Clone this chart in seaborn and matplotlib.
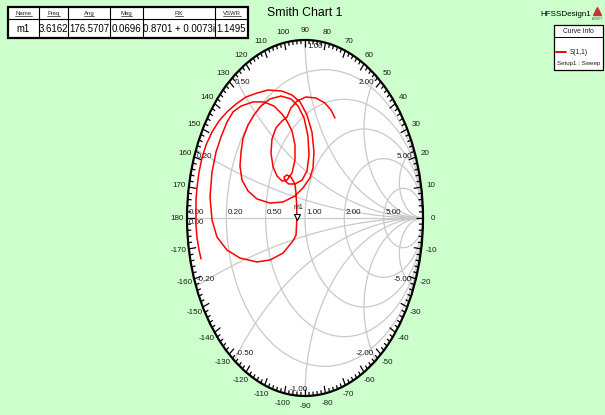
import numpy as np
import matplotlib
matplotlib.use("Agg")
import matplotlib.pyplot as plt
from matplotlib.patches import Circle, Rectangle
from matplotlib.collections import LineCollection
import seaborn as sns

# ---- S(1,1) sweep, reflection coefficient (real / imaginary parts) ----
gamma_re = [-0.881, -0.898, -0.915, -0.924, -0.924, -0.924, -0.915, -0.898, -0.873, -0.839,
            -0.788, -0.729, -0.661, -0.585, -0.500, -0.407, -0.314, -0.195, -0.110, -0.042,
            0.017, 0.059, 0.076, 0.068, 0.042, -0.017, -0.085, -0.186, -0.297, -0.407,
            -0.483, -0.534, -0.551, -0.542, -0.525, -0.483, -0.432, -0.373, -0.297, -0.203,
            -0.119, -0.059, -0.008, 0.025, 0.034, 0.017, -0.025, -0.085, -0.136, -0.169,
            -0.178, -0.153, -0.119, -0.085, -0.075, -0.070, -0.0695, -0.072, -0.076, -0.102,
            -0.186, -0.297, -0.407, -0.551, -0.661, -0.746, -0.788, -0.805, -0.788, -0.754,
            -0.712, -0.661, -0.610, -0.542, -0.441, -0.347, -0.263, -0.195, -0.153, -0.110,
            -0.085, -0.085, -0.110, -0.153, -0.195, -0.237, -0.271, -0.288, -0.280, -0.246,
            -0.195, -0.153, -0.119, -0.068, 0.008, 0.093, 0.169, 0.220, 0.254]
gamma_im = [-0.230, -0.180, -0.112, -0.039, 0.034, 0.101, 0.174, 0.258, 0.337, 0.410,
            0.483, 0.545, 0.596, 0.640, 0.680, 0.702, 0.719, 0.713, 0.691, 0.652,
            0.579, 0.483, 0.371, 0.281, 0.225, 0.169, 0.124, 0.090, 0.084, 0.107,
            0.152, 0.213, 0.292, 0.371, 0.449, 0.522, 0.579, 0.629, 0.669, 0.685,
            0.669, 0.629, 0.562, 0.461, 0.354, 0.264, 0.213, 0.191, 0.191, 0.208,
            0.230, 0.242, 0.230, 0.191, 0.129, 0.062, 0.0042, -0.045, -0.096, -0.129,
            -0.197, -0.236, -0.247, -0.225, -0.180, -0.107, -0.011, 0.118, 0.258, 0.371,
            0.455, 0.539, 0.596, 0.629, 0.652, 0.652, 0.629, 0.584, 0.545, 0.489,
            0.410, 0.326, 0.253, 0.213, 0.208, 0.236, 0.287, 0.365, 0.444, 0.506,
            0.545, 0.567, 0.618, 0.657, 0.680, 0.674, 0.646, 0.607, 0.562]

# marker m1
marker_name = "m1"
marker_re = -0.0695
marker_im = 0.0042

# marker table
table_headers = ["Name", "Freq", "Ang", "Mag", "RX", "VSWR"]
table_values = ["m1", "3.6162", "176.5707", "0.0696", "0.8701 + 0.0073i", "1.1495"]

# Smith grid
resistance_values = [0.2, 0.5, 1.0, 2.0, 5.0]
resistance_labels = ["0.20", "0.50", "1.00", "2.00", "5.00"]
reactance_values = [0.2, 0.5, 1.0, 2.0, 5.0]
reactance_labels = ["0.20", "0.50", "1.00", "2.00", "5.00"]
angle_ticks = list(range(-170, 190, 10))

title_text = "Smith Chart 1"
design_text = "HFSSDesign1"
legend_title = "Curve Info"
legend_trace = "S(1,1)"
legend_setup = "Setup1 : Sweep"

# ---------------------------------------------------------------------
sns.set_theme(style="white")
plt.rcParams["font.family"] = ["Liberation Sans", "DejaVu Sans"]

W, H = 605, 415
BG = "#ccffcc"
GRID = "#c9c9c9"
TXT = "#1a1a1a"
FS = 5.8

fig = plt.figure(figsize=(W / 100, H / 100), dpi=100, facecolor=BG)

# chart axes: unit circle spans 236 px wide and 356 px tall
cx, cy, rx, ry = 305.0, 218.0, 118.0, 178.0
ax = fig.add_axes([0, 0, 1, 1])
ax.set_xlim(-cx / rx, (W - cx) / rx)
ax.set_ylim((cy - H) / ry, cy / ry)
ax.axis("off")

disk = Circle((0, 0), 1.0, facecolor="white", edgecolor="none", zorder=0)
ax.add_patch(disk)

# resistance circles
for r in resistance_values:
    c = Circle((r / (1 + r), 0), 1 / (1 + r), fill=False, ec=GRID, lw=0.9, zorder=1)
    ax.add_patch(c)
# reactance arcs, clipped to the chart
for x in reactance_values:
    for s in (1, -1):
        c = Circle((1, s / x), 1 / x, fill=False, ec=GRID, lw=0.9, zorder=1)
        ax.add_patch(c)
        c.set_clip_path(disk)
ax.plot([-1, 1], [0, 0], color=GRID, lw=0.9, zorder=1)

# outer rim
rim = Circle((0, 0), 1.0, fill=False, ec="black", lw=1.6, zorder=4)
ax.add_patch(rim)

# angle ticks every 2 degrees, longer every 10
segs = []
for deg in range(-180, 180, 2):
    t = np.deg2rad(deg)
    L = 7.5 if deg % 10 == 0 else 4.0
    segs.append([(np.cos(t), np.sin(t)),
                 (np.cos(t) * (1 - L / rx), np.sin(t) * (1 - L / ry))])
ax.add_collection(LineCollection(segs, colors="black", linewidths=0.9, zorder=4))

# angle labels
d = 10.0
for deg in angle_ticks:
    t = np.deg2rad(deg)
    ax.text(np.cos(t) * (1 + d / rx), np.sin(t) * (1 + d / ry), str(deg),
            ha="center", va="center", fontsize=FS, color=TXT, zorder=5)

# resistance labels along the real axis
ax.text(-1 + 2 / rx, 2 / ry, "0.00", ha="left", va="bottom", fontsize=FS, color=TXT, zorder=5)
ax.text(-1 + 2 / rx, -1 / ry, "0.00", ha="left", va="top", fontsize=FS, color=TXT, zorder=5)
for r, lab in zip(resistance_values, resistance_labels):
    g = (r - 1) / (r + 1)
    ax.text(g + 1.5 / rx, 2 / ry, lab, ha="left", va="bottom", fontsize=FS, color=TXT, zorder=5)

# reactance labels at the rim
for x, lab in zip(reactance_values, reactance_labels):
    for s in (1, -1):
        t = np.pi - 2 * np.arctan(x)
        px, py = np.cos(t), s * np.sin(t)
        text = lab if s > 0 else "-" + lab
        if abs(x - 1.0) < 1e-9:
            ha = "left" if s > 0 else "right"
            dx = 2 if s > 0 else 3
        elif x < 1:
            ha, dx = "left", 1
        else:
            ha, dx = "right", -2
        va = "top" if s > 0 else "bottom"
        dy = -3 if s > 0 else 3
        ax.text(px + dx / rx, py + dy / ry, text, ha=ha, va=va,
                fontsize=FS, color=TXT, zorder=5)

# trace
sns.lineplot(x=gamma_re, y=gamma_im, sort=False, estimator=None, color="red",
             lw=1.1, ax=ax, legend=False, zorder=6)

# marker
ax.plot([marker_re], [marker_im], marker="v", ms=4.5, mfc="white", mec="black",
        mew=0.8, ls="none", zorder=7)
ax.text(marker_re + 2 / rx, marker_im + 6 / ry, marker_name, ha="center", va="bottom",
        fontsize=5.0, color=TXT, zorder=7)

# ---------------------------------------------------------------------
# overlay in pixel coordinates for title, table and legend
ov = fig.add_axes([0, 0, 1, 1], zorder=10)
ov.set_xlim(0, W)
ov.set_ylim(H, 0)
ov.axis("off")

ov.text(305, 13, title_text, ha="center", va="center", fontsize=8.8, color="black")
ov.text(540, 14, design_text, ha="left", va="center", fontsize=5.8, color="black")
ov.plot([597], [11], marker="^", ms=5.5, color="#c83232", ls="none")
ov.text(597, 18.5, "ANSOFT", ha="center", va="center", fontsize=1.8, color="#444444")

# marker table
cols = [8, 39, 68, 110, 143, 215, 248]
rows = [7, 19.5, 38]
ov.add_patch(Rectangle((cols[0], rows[0]), cols[-1] - cols[0], rows[-1] - rows[0],
                       facecolor="white", edgecolor="none"))
for xc in cols[1:-1]:
    ov.plot([xc, xc], [rows[0], rows[-1]], color="black", lw=0.8)
ov.plot([cols[0], cols[-1]], [rows[1], rows[1]], color="black", lw=0.8)
ov.add_patch(Rectangle((cols[0], rows[0]), cols[-1] - cols[0], rows[-1] - rows[0],
                       fill=False, edgecolor="black", lw=1.6))
header_texts = []
for i, h in enumerate(table_headers):
    xm = (cols[i] + cols[i + 1]) / 2
    header_texts.append(ov.text(xm, (rows[0] + rows[1]) / 2, h, ha="center", va="center",
                                fontsize=4.3, color="#202020"))
    ov.text(xm, (rows[1] + rows[2]) / 2 + 0.5, table_values[i], ha="center", va="center",
            fontsize=6.9, color="black")

# legend box
lx0, ly0, lx1, ly1 = 554, 25, 603, 70
ov.add_patch(Rectangle((lx0, ly0), lx1 - lx0, ly1 - ly0, facecolor="white",
                       edgecolor="black", lw=0.9))
ov.plot([lx0, lx1], [37.5, 37.5], color="black", lw=0.7)
ov.text((lx0 + lx1) / 2, 31.5, legend_title, ha="center", va="center", fontsize=4.8, color=TXT)
ov.plot([556, 566], [52, 52], color="red", lw=1.4)
ov.text(570, 52, legend_trace, ha="left", va="center", fontsize=4.8, color=TXT)
ov.text((lx0 + lx1) / 2, 63, legend_setup, ha="center", va="center", fontsize=4.4, color=TXT)

# underline the table headers
fig.canvas.draw()
inv = ov.transData.inverted()
for t in header_texts:
    bb = t.get_window_extent()
    (xa, ya), (xb, yb) = inv.transform([(bb.x0, bb.y0), (bb.x1, bb.y0)])
    ov.plot([xa, xb], [ya + 0.3, ya + 0.3], color="#202020", lw=0.5)

fig.savefig("out.png", dpi=100, facecolor=BG)
